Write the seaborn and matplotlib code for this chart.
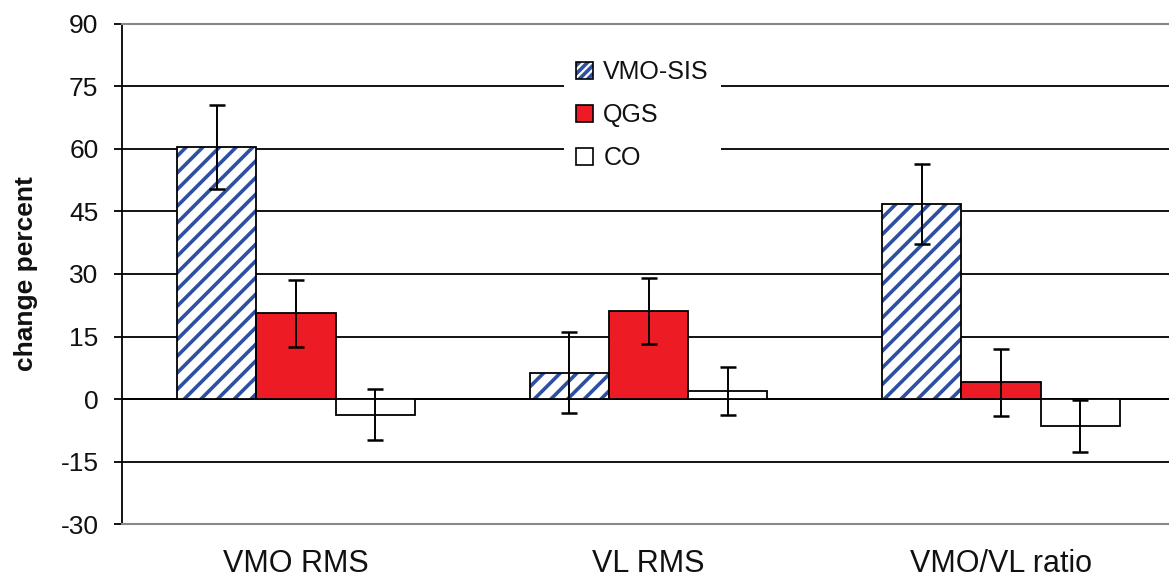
import matplotlib
matplotlib.use("Agg")
import matplotlib.pyplot as plt
from matplotlib import font_manager
from matplotlib.patches import Rectangle, Patch
import seaborn as sns
import pandas as pd

categories = ["VMO RMS", "VL RMS", "VMO/VL ratio"]
groups = ["VMO-SIS", "QGS", "CO"]
vmo_sis = [60.5, 6.3, 46.7]
qgs = [20.6, 21.1, 4.0]
co = [-3.8, 1.9, -6.5]
vmo_sis_err = [10.0, 9.7, 9.6]
qgs_err = [8.0, 8.0, 8.0]
co_err = [6.1, 5.8, 6.3]
yticks = [-30, -15, 0, 15, 30, 45, 60, 75, 90]

sns.set_theme(style="white")
names = {f.name for f in font_manager.fontManager.ttflist}
base = "Liberation Sans" if "Liberation Sans" in names else "DejaVu Sans"
narrow = "Liberation Sans Narrow" if "Liberation Sans Narrow" in names else base
plt.rcParams["font.family"] = [base, "DejaVu Sans"]
plt.rcParams["hatch.linewidth"] = 2.6

blue = "#2E50A3"
red = "#ED1C24"
txt = "#111111"

rows = []
for g, vals, errs in [("VMO-SIS", vmo_sis, vmo_sis_err), ("QGS", qgs, qgs_err), ("CO", co, co_err)]:
    for c, v, e in zip(categories, vals, errs):
        rows.append({"cat": c, "group": g, "val": v, "err": e})
df = pd.DataFrame(rows)

fig = plt.figure(figsize=(11.69, 5.81), dpi=100)
ax = fig.add_axes([0.1044, 0.0981, 0.8956, 0.8606])

sns.barplot(data=df, x="cat", y="val", hue="group", order=categories, hue_order=groups,
            palette=["white", red, "white"], width=0.675, errorbar=None,
            edgecolor="black", linewidth=1.3, saturation=1, ax=ax, zorder=3)

for cont, g in zip(ax.containers, groups):
    sub = df[df.group == g].set_index("cat").loc[categories]
    xs = [p.get_x() + p.get_width() / 2 for p in cont.patches]
    ax.errorbar(xs, sub["val"].values, yerr=sub["err"].values, fmt="none",
                ecolor="black", elinewidth=1.4, capsize=5.5, capthick=1.8, zorder=5)
    if g == "VMO-SIS":
        for p in cont.patches:
            p.set_hatch("//")
            p.set_edgecolor(blue)
            p.set_linewidth(0)
            ax.add_patch(Rectangle((p.get_x(), p.get_y()), p.get_width(), p.get_height(),
                                   fill=False, edgecolor="black", linewidth=1.3, zorder=4))

ax.set_ylim(-30, 90)
ax.set_xlim(-0.494, 2.477)
ax.set_yticks(yticks)
ax.set_yticklabels([str(t) for t in yticks], fontsize=19, color=txt)
ax.yaxis.grid(True, color="black", linewidth=1.3)
ax.set_axisbelow(True)
ax.axhline(0, color="black", linewidth=1.3, zorder=2)

ax.set_xlabel("")
ax.set_ylabel("change percent", fontsize=19, fontweight="bold", labelpad=16, color=txt)
ax.tick_params(axis="y", direction="out", length=6, width=1.3, color="black", pad=11, left=True)
ax.tick_params(axis="x", length=0, pad=18)
for lab in ax.get_xticklabels():
    lab.set_fontfamily([narrow, "DejaVu Sans"])
    lab.set_fontsize(22)
    lab.set_color(txt)

for s in ["top", "bottom"]:
    ax.spines[s].set_color("#888888")
    ax.spines[s].set_linewidth(1.5)
ax.spines["right"].set_visible(False)
ax.spines["left"].set_color("black")
ax.spines["left"].set_linewidth(1.3)

if ax.get_legend() is not None:
    ax.get_legend().remove()
hp = [
    (Patch(facecolor="white", edgecolor=blue, hatch="////", linewidth=0),
     Patch(fill=False, edgecolor="black", linewidth=1.2)),
    Patch(facecolor=red, edgecolor="black", linewidth=1.2),
    Patch(facecolor="white", edgecolor="black", linewidth=1.2),
]
leg = ax.legend(hp, groups, loc="upper left", bbox_to_anchor=(0.410, 0.978), frameon=True,
                fontsize=18, handlelength=0.68, handleheight=0.68, handletextpad=0.4,
                labelspacing=0.76, borderpad=0.5, fancybox=False, framealpha=1)
leg.get_frame().set_edgecolor("white")
leg.get_frame().set_linewidth(0)
leg.set_zorder(6)
for t in leg.get_texts():
    t.set_color(txt)

fig.savefig("out.png", dpi=100)
